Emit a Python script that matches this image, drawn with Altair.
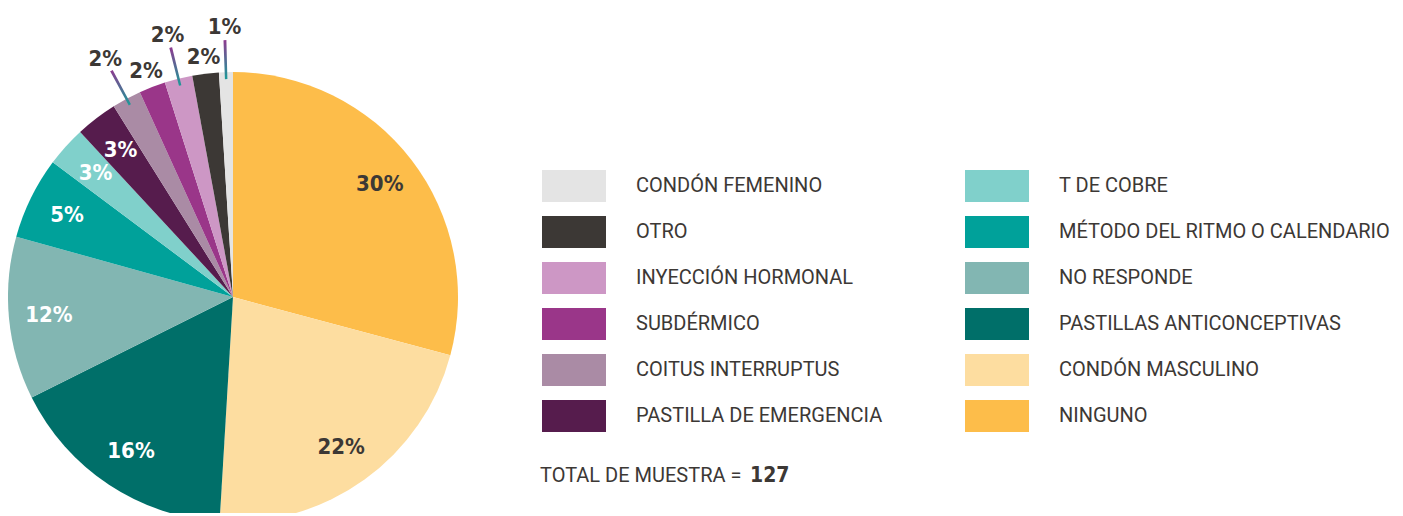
import altair as alt
import pandas as pd

# ---- data (clockwise from 12 o'clock) ----
categories = ["NINGUNO", "CONDÓN MASCULINO", "PASTILLAS ANTICONCEPTIVAS", "NO RESPONDE",
              "MÉTODO DEL RITMO O CALENDARIO", "T DE COBRE", "PASTILLA DE EMERGENCIA",
              "COITUS INTERRUPTUS", "SUBDÉRMICO", "INYECCIÓN HORMONAL", "OTRO", "CONDÓN FEMENINO"]
shares = [29.2, 21.8, 16.7, 11.7, 5.9, 2.9, 3.0, 2.1, 1.9, 2.0, 1.9, 1.0]
labels = ["30%", "22%", "16%", "12%", "5%", "3%", "3%", "2%", "2%", "2%", "2%", "1%"]
colors = ["#FDBD4A", "#FDDDA0", "#006F69", "#82B6B2", "#00A19A", "#80D0CB",
          "#561C4D", "#AA8BA5", "#9A3689", "#CD97C5", "#3C3835", "#E4E4E4"]
legend_left = ["CONDÓN FEMENINO", "OTRO", "INYECCIÓN HORMONAL", "SUBDÉRMICO",
               "COITUS INTERRUPTUS", "PASTILLA DE EMERGENCIA"]
legend_right = ["T DE COBRE", "MÉTODO DEL RITMO O CALENDARIO", "NO RESPONDE",
                "PASTILLAS ANTICONCEPTIVAS", "CONDÓN MASCULINO", "NINGUNO"]
total_sample = "127"

DARK = "#3C3835"
CX, CY, R = 225, 289, 225

# ---- derived table ----
total = sum(shares)
rows = []
cum = 0.0
n_in = 7
for i, (c, s, l) in enumerate(zip(categories, shares, labels)):
    mid = cum + s / 2
    outside = i >= n_in
    far = outside and ((i - n_in) % 2 == 0)
    if not outside:
        r = 185
    elif far:
        r = 270
    else:
        r = 242
    rows.append(dict(cat=c, share=s, label=l, idx=i, mid=mid,
                     a=mid - 0.09, b=mid + 0.09, r=r, far=far,
                     tcol=(DARK if (i < 2 or outside) else "#FFFFFF")))
    cum += s
df = pd.DataFrame(rows)

# legend fills column by column
legend_order = legend_left + legend_right
cmap = dict(zip(categories, colors))
legend_colors = [cmap[c] for c in legend_order]

theta_scale = alt.Scale(domain=[0, total])

pie = alt.Chart(df).mark_arc(outerRadius=R).encode(
    theta=alt.Theta("share:Q", stack=True, scale=theta_scale),
    order=alt.Order("idx:Q", sort="ascending"),
    color=alt.Color("cat:N",
                    scale=alt.Scale(domain=legend_order, range=legend_colors),
                    legend=alt.Legend(title=None, orient="none", legendX=550, legendY=162,
                                      columns=2, symbolType="M-2,-1H2V1H-2Z",
                                      symbolSize=1024, symbolStrokeWidth=0, symbolOpacity=1,
                                      labelFont="Roboto", labelFontSize=20, labelColor=DARK,
                                      labelOffset=46, rowPadding=14, columnPadding=82,
                                      padding=0, labelLimit=600)),
    x=alt.value(CX), y=alt.value(CY),
)

leaders = alt.Chart(df).transform_filter("datum.far").mark_arc(
    innerRadius=218, outerRadius=257,
    color=alt.Gradient(gradient="linear",
                       stops=[alt.GradientStop(color="#8E3B90", offset=0),
                              alt.GradientStop(color="#1C9A98", offset=1)],
                       x1=0, x2=0, y1=0, y2=1)
).encode(
    theta=alt.Theta("a:Q", stack=None, scale=theta_scale),
    theta2="b:Q",
    x=alt.value(CX), y=alt.value(CY),
)

text = alt.Chart(df).mark_text(font="DejaVu Sans Condensed", fontWeight="bold", fontSize=22,
                               align="center", baseline="middle").encode(
    theta=alt.Theta("mid:Q", stack=None, scale=theta_scale),
    radius=alt.Radius("r:Q", scale=None),
    text="label:N",
    color=alt.Color("tcol:N", scale=None),
    x=alt.value(CX), y=alt.value(CY),
)

tot1 = alt.Chart(pd.DataFrame({"t": ["TOTAL DE MUESTRA ="]})).mark_text(
    font="Roboto", fontSize=20, color=DARK, align="left", baseline="alphabetic"
).encode(text="t:N", x=alt.value(532), y=alt.value(474))

tot2 = alt.Chart(pd.DataFrame({"t": [total_sample]})).mark_text(
    font="DejaVu Sans Condensed", fontWeight="bold", fontSize=21, color=DARK,
    align="left", baseline="alphabetic"
).encode(text="t:N", x=alt.value(742), y=alt.value(474))

chart = alt.layer(pie, leaders, text, tot1, tot2).properties(
    width=1387, height=505, padding=0,
    autosize=alt.AutoSizeParams(type="none"),
).configure_view(stroke=None)

chart.save("out.html", embed_options={"renderer": "svg", "actions": False})
